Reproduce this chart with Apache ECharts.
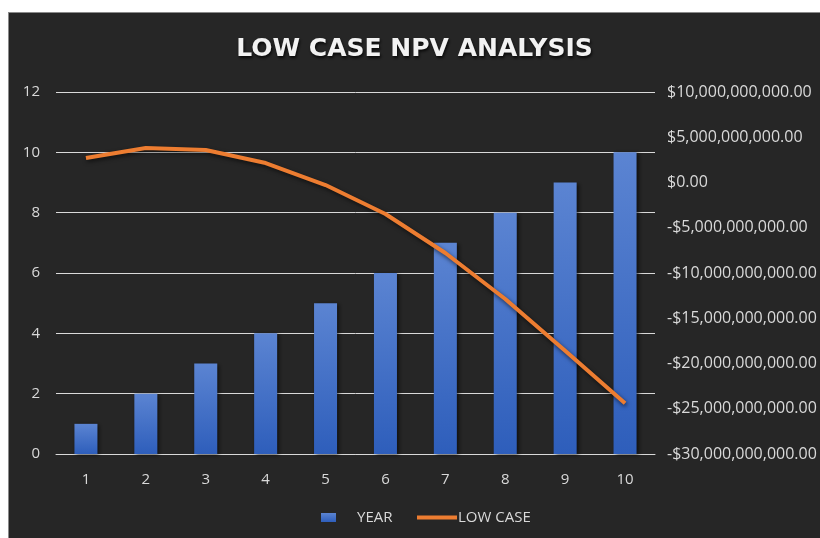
<!DOCTYPE html>
<html>
<head>
<meta charset="utf-8">
<script src="https://cdn.jsdelivr.net/npm/echarts@6/dist/echarts.min.js"></script>
<style>
  html, body { margin: 0; padding: 0; background: #ffffff; }
  #chart {
    position: absolute; left: 8px; top: 12px; width: 811px; height: 526px;
    border-top: 1px solid #8a8a8a; border-left: 1px solid #8a8a8a;
    background: #262626;
  }
</style>
</head>
<body>
<div id="chart"></div>
<script>
// Year index (bars, left axis) and low-case NPV (line, right axis)
const years = ['1', '2', '3', '4', '5', '6', '7', '8', '9', '10'];
const yearValues = [1, 2, 3, 4, 5, 6, 7, 8, 9, 10];
const lowCaseNpv = [2.71e9, 3.81e9, 3.59e9, 2.15e9, -0.28e9, -3.48e9, -7.79e9, -12.87e9, -18.6e9, -24.4e9];

const labelColor = '#d9d9d9';
const fontFamily = '"Open Sans", sans-serif';

function money(v) {
  const s = Math.abs(v).toLocaleString('en-US', { minimumFractionDigits: 2, maximumFractionDigits: 2 });
  return (v < 0 ? '-$' : '$') + s;
}

const chart = echarts.init(document.getElementById('chart'), null, { renderer: 'canvas' });
chart.setOption({
  backgroundColor: '#262626',
  animation: false,
  title: {
    text: 'LOW CASE NPV ANALYSIS',
    left: 'center',
    top: 19,
    textStyle: {
      color: '#f2f2f2', fontFamily: '"DejaVu Sans", sans-serif', fontWeight: 'bold', fontSize: 25,
      textShadowColor: 'rgba(0,0,0,0.8)', textShadowBlur: 3, textShadowOffsetX: 1, textShadowOffsetY: 2
    }
  },
  legend: [
    {
      data: ['YEAR'], left: 307, bottom: 9, itemWidth: 15, itemHeight: 9, icon: 'rect',
      textStyle: { color: labelColor, fontFamily: fontFamily, fontSize: 15, padding: [0, 0, 0, 16] }
    },
    {
      data: ['LOW CASE'], left: 403, bottom: 9, itemWidth: 40, itemHeight: 4, icon: 'rect',
      textStyle: { color: labelColor, fontFamily: fontFamily, fontSize: 15, padding: [0, 0, 0, -4] }
    }
  ],
  grid: { left: 47, right: 165, top: 79, bottom: 85 },
  xAxis: {
    type: 'category',
    data: years,
    axisLine: { lineStyle: { color: '#d9d9d9', width: 1 } },
    axisTick: { show: false },
    axisLabel: { color: labelColor, fontFamily: fontFamily, fontSize: 15, margin: 18 }
  },
  yAxis: [
    {
      type: 'value', min: 0, max: 12, interval: 2,
      axisLine: { show: false }, axisTick: { show: false },
      axisLabel: { color: labelColor, fontFamily: fontFamily, fontSize: 15, margin: 16 },
      splitLine: { lineStyle: { color: '#d9d9d9', width: 1 } }
    },
    {
      type: 'value', min: -30e9, max: 10e9, interval: 5e9, position: 'right',
      axisLine: { show: false }, axisTick: { show: false },
      splitLine: { show: false },
      axisLabel: { color: labelColor, fontFamily: fontFamily, fontSize: 16, margin: 12, formatter: money }
    }
  ],
  series: [
    {
      name: 'YEAR', type: 'bar', data: yearValues, yAxisIndex: 0, barWidth: 23,
      itemStyle: {
        color: new echarts.graphic.LinearGradient(0, 0, 0, 1, [
          { offset: 0, color: '#5b84d2' }, { offset: 1, color: '#2e5ebb' }
        ]),
        shadowColor: 'rgba(0,0,0,0.6)', shadowBlur: 4, shadowOffsetX: 2, shadowOffsetY: 1
      }
    },
    {
      name: 'LOW CASE', type: 'line', data: lowCaseNpv, yAxisIndex: 1,
      symbol: 'none',
      lineStyle: { color: '#ed7d31', width: 4, shadowColor: 'rgba(0,0,0,0.6)', shadowBlur: 4, shadowOffsetX: 1, shadowOffsetY: 2 },
      itemStyle: { color: '#ed7d31' }
    }
  ]
});
</script>
</body>
</html>
